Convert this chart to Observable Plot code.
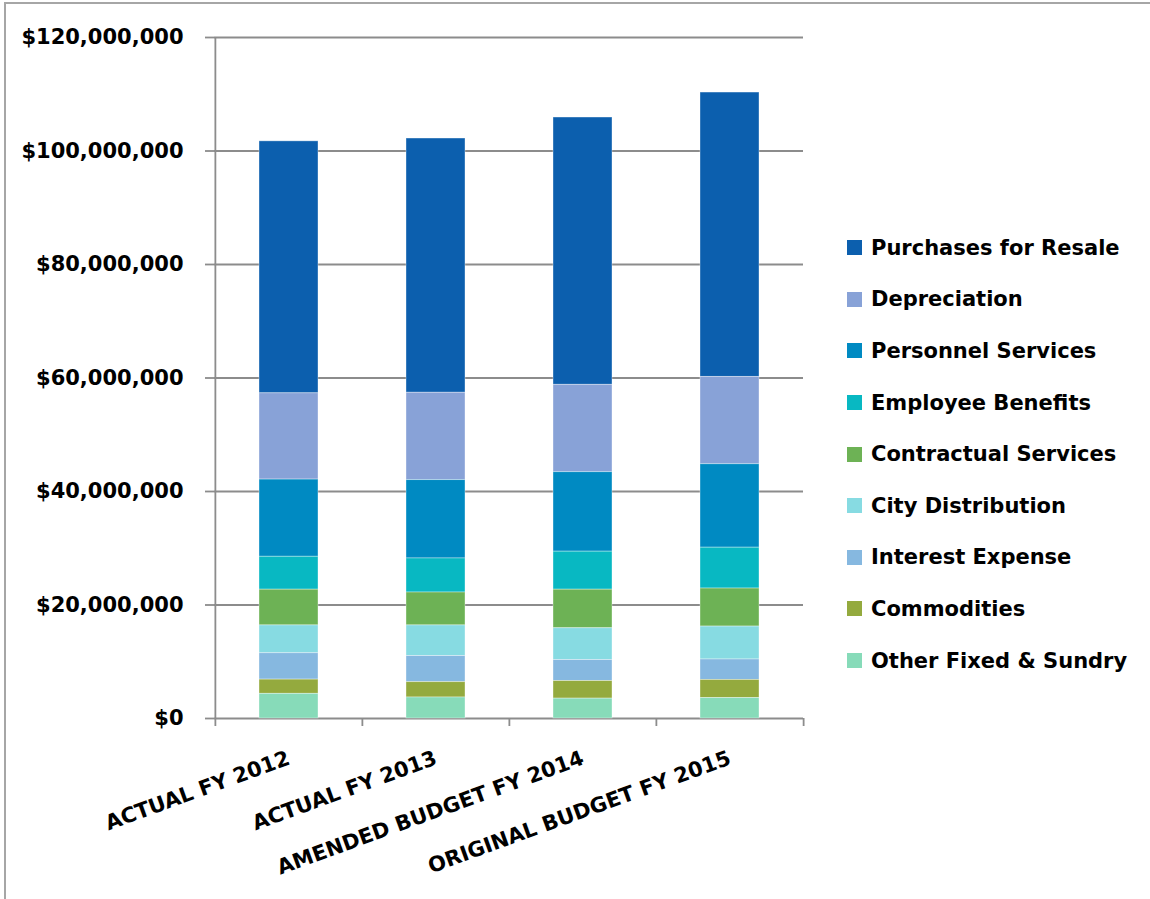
<!DOCTYPE html>
<html>
<head>
<meta charset="utf-8">
<script src="https://cdn.jsdelivr.net/npm/d3@7"></script>
<script src="https://cdn.jsdelivr.net/npm/@observablehq/plot@0.6"></script>
<style>
  html, body { margin: 0; padding: 0; background: #fff; }
  #wrap { position: relative; width: 1150px; height: 899px; overflow: hidden; font-family: "DejaVu Sans", sans-serif; font-weight: bold; }
  #border { position: absolute; left: 4px; top: 2px; width: 1300px; height: 1000px; border-left: 2px solid #a6a6a6; border-top: 2px solid #a6a6a6; }
  #chart { position: absolute; left: 0; top: 0; }
  #legend { position: absolute; left: 847px; top: 222px; }
  .row { display: flex; align-items: center; height: 51.6px; }
  .sw { width: 15px; height: 15px; margin-right: 9px; flex: none; }
  .lab { font-size: 21px; color: #000; white-space: nowrap; }
</style>
</head>
<body>
<div id="wrap">
  <div id="border"></div>
  <div id="chart"></div>
  <div id="legend"></div>
</div>
<script>
// ---- data ----
const categories = ["ACTUAL FY 2012", "ACTUAL FY 2013", "AMENDED BUDGET FY 2014", "ORIGINAL BUDGET FY 2015"];
// legend order (top of stack first)
const seriesNames = ["Purchases for Resale", "Depreciation", "Personnel Services", "Employee Benefits",
  "Contractual Services", "City Distribution", "Interest Expense", "Commodities", "Other Fixed & Sundry"];
const seriesColors = ["#0c5fae", "#88a2d7", "#008ac2", "#08b8c2", "#6db255", "#87dbe2", "#86b8e0", "#94aa3e", "#87dbb9"];
const purchasesForResale = [44400000, 44800000, 47100000, 50100000];
const depreciation       = [15200000, 15400000, 15400000, 15400000];
const personnelServices  = [13600000, 13800000, 14000000, 14700000];
const employeeBenefits   = [5800000, 6000000, 6700000, 7200000];
const contractualServices= [6300000, 5800000, 6800000, 6700000];
const cityDistribution   = [4900000, 5400000, 5600000, 5800000];
const interestExpense    = [4650000, 4600000, 3700000, 3600000];
const commodities        = [2500000, 2700000, 3100000, 3200000];
const otherFixedSundry   = [4350000, 3700000, 3500000, 3600000];
const yTicks = [0, 20000000, 40000000, 60000000, 80000000, 100000000, 120000000];

const seriesValues = [purchasesForResale, depreciation, personnelServices, employeeBenefits,
  contractualServices, cityDistribution, interestExpense, commodities, otherFixedSundry];

const table = [];
seriesNames.forEach((s, si) => categories.forEach((c, ci) => table.push({category: c, series: s, value: seriesValues[si][ci]})));
const stackOrder = seriesNames.slice().reverse(); // bottom first

// ---- layout ----
const W = 830, H = 899, mL = 214, mR = 27, mT = 37, mB = 181;
const step = (W - mL - mR) / categories.length;
const grey = "#8c8c8c";
const font = "DejaVu Sans";

const chart = Plot.plot({
  width: W, height: H,
  marginLeft: mL, marginRight: mR, marginTop: mT, marginBottom: mB,
  style: {background: "transparent", color: "#000"},
  x: {domain: categories, paddingInner: 0.6, paddingOuter: 0.3, axis: null},
  y: {domain: [0, 120000000], axis: null},
  color: {domain: seriesNames, range: seriesColors},
  marks: [
    Plot.gridY(yTicks, {stroke: grey, strokeOpacity: 1, strokeWidth: 1.8}),
    Plot.ruleX([categories[0]], {x: d => d, dx: -step / 2, stroke: grey, strokeWidth: 1.8}),
    Plot.ruleX(categories, {x: d => d, dx: -step / 2, y1: 0, y2: 0, insetTop: 0, insetBottom: -8, stroke: grey, strokeWidth: 1.8}),
    Plot.ruleX([categories[categories.length - 1]], {x: d => d, dx: step / 2, y1: 0, y2: 0, insetTop: 0, insetBottom: -8, stroke: grey, strokeWidth: 1.8}),
    Plot.barY(table, {x: "category", y: "value", fill: "series", order: stackOrder, stroke: "#ffffff", strokeOpacity: 0.45, strokeWidth: 0.8}),
    Plot.axisY({ticks: yTicks, tickFormat: d3.format("$,.0f"), tickSize: 9, tickPadding: 22, label: null,
      stroke: grey, strokeWidth: 1.8, fontSize: 21, fontWeight: "bold", fontFamily: font, fill: "#000"}),
    Plot.axisX({tickSize: 0, tickRotate: -20, tickPadding: 39, label: null, fontSize: 21, fontWeight: "bold", fontFamily: font, fill: "#000"})
  ]
});
document.getElementById("chart").appendChild(chart);

// ---- legend ----
const legend = document.getElementById("legend");
seriesNames.forEach((s, i) => {
  const row = document.createElement("div");
  row.className = "row";
  const sw = document.createElement("div");
  sw.className = "sw";
  sw.style.background = seriesColors[i];
  const lab = document.createElement("div");
  lab.className = "lab";
  lab.textContent = s;
  row.appendChild(sw); row.appendChild(lab);
  legend.appendChild(row);
});
</script>
</body>
</html>
